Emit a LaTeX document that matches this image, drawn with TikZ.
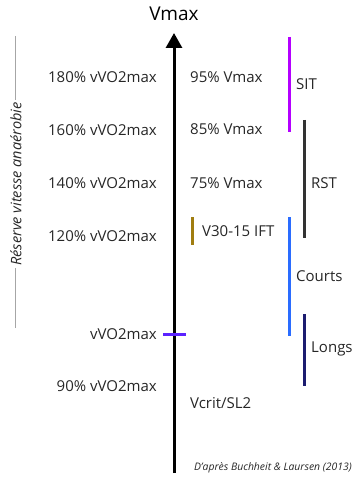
\documentclass[tikz,border=0pt]{standalone}
\usepackage{fontspec}
\setmainfont{Open Sans}
\usepackage{tikz}
\usetikzlibrary{arrows.meta}

\definecolor{sitcol}{HTML}{B400FF}
\definecolor{rstcol}{HTML}{333333}
\definecolor{courtcol}{HTML}{2A6CFF}
\definecolor{longcol}{HTML}{1C1C70}
\definecolor{iftcol}{HTML}{A07D10}
\definecolor{vocol}{HTML}{5B22FF}

\tikzset{
  lbl/.style = {inner sep=0pt, font=\fontsize{15}{18}\selectfont, text=black!85},
  bar/.style = {line width=3pt},
}

\begin{document}
\begin{tikzpicture}[x=1pt, y=-1pt]
\useasboundingbox (0,0) rectangle (359,484);

\coordinate (axBot) at (174,473);
\coordinate (axTop) at (174,33);
\node[inner sep=0pt, font=\fontsize{19}{22}\selectfont] (vmax) at (174,14) {Vmax};
\draw[line width=3pt, -{Triangle[width=16pt, length=15pt]}] (axBot) -- (axTop);

\foreach \p/\y in {180/77,160/130,140/183,120/236,90/386}
	\node[lbl, anchor=east] (v\p) at (157,\y) {\p\% vVO2max};
\node[lbl, anchor=east] (vvo) at (157,334) {vVO2max};
\coordinate (tickL) at (163,334);
\coordinate (tickR) at (186,334);
\draw[bar, vocol] (tickL) -- (tickR);

\foreach \p/\y in {95/77,85/129,75/183}
	\node[lbl, anchor=west] (m\p) at (190,\y) {\p\% Vmax};
\node[lbl, anchor=west] (vcrit) at (190,403) {Vcrit/SL2};

\coordinate (iftTop) at (192,217);
\coordinate (iftBot) at (192,245);
\draw[bar, iftcol] (iftTop) -- (iftBot);
\node[lbl, anchor=west] (ift) at (202,231) {V30-15 IFT};

\foreach \n/\c/\x/\a/\b/\ly in {sit/sitcol/289/37/132/84, rst/rstcol/304/120/238/183, courts/courtcol/289/217/336/276, longs/longcol/304/314/386/349}
{
	\coordinate (\n Top) at (\x,\a);
	\coordinate (\n Bot) at (\x,\b);
	\draw[bar, \c] (\n Top) -- (\n Bot);
}
\node[lbl, anchor=west] (sitl) at (296,84) {SIT};
\node[lbl, anchor=west] (rstl) at (311,183) {RST};
\node[lbl, anchor=west] (courtsl) at (296,276) {Courts};
\node[lbl, anchor=west] (longsl) at (311,349) {Longs};

\node[rotate=90, inner sep=2pt, font=\fontsize{14.5}{16}\itshape, text=black!85] (reserve) at (16,184) {Réserve vitesse anaérobie};
\coordinate (resTop) at (15,36);
\coordinate (resBot) at (15,328);
\draw[black!35, line width=0.8pt] (resTop) -- (resTop |- reserve.east);
\draw[black!35, line width=0.8pt] (resBot) -- (resBot |- reserve.west);

\node[anchor=east, inner sep=0pt, font=\fontsize{10.4}{12}\itshape, text=black!85] (credit) at (352,468) {D'après Buchheit \& Laursen (2013)};
\end{tikzpicture}
\end{document}
